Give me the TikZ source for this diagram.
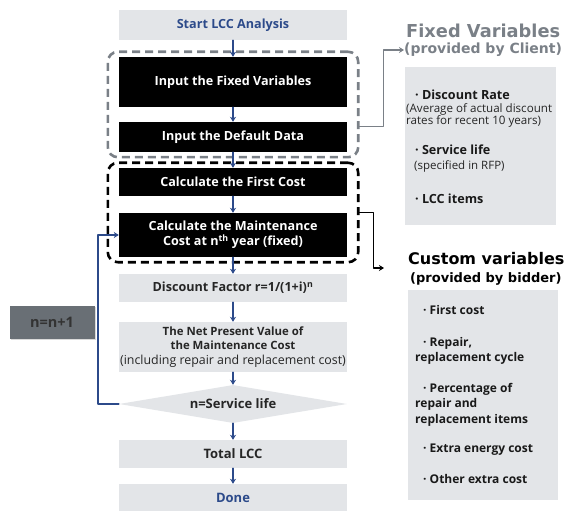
\documentclass[tikz,border=0pt]{standalone}
\usepackage{fontspec}
\setmainfont{Open Sans}
\newfontfamily\headfont{DejaVu Sans}
\usetikzlibrary{shapes.geometric,arrows.meta,fit,shadows}
\definecolor{boxgray}{RGB}{227,229,232}
\definecolor{flowblue}{RGB}{44,74,138}
\definecolor{linegray}{RGB}{122,128,135}
\definecolor{stepgray}{RGB}{105,111,117}
\begin{document}
\begin{tikzpicture}[x=1pt,y=-1pt,>={Stealth[length=5pt,width=6pt]}, font=\bfseries\fontsize{12.6}{15}\selectfont, line join=round, line cap=round,
	darkbox/.style={fill=black,text=white,minimum width=228pt,align=center,inner sep=0pt},
	lightbox/.style={fill=boxgray,text=black!85,minimum width=228pt,align=center,inner sep=0pt},
	flow/.style={->,draw=flowblue,line width=1.3pt},
	group/.style={draw,rounded corners=10pt,line width=2.6pt,dash pattern=on 8pt off 5pt,line cap=butt,inner xsep=11pt,inner ysep=5pt},
	item/.style={anchor=west,inner sep=0pt,text=black!90},
	note/.style={anchor=west,inner sep=0pt,font=\mdseries\fontsize{11.6}{13}\selectfont,text=black!85}]
	\useasboundingbox (0,0) rectangle (566,511);
	% main flow
	\node[lightbox,minimum height=30pt,text=flowblue] (start) at (233,25) {Start LCC Analysis};
	\node[darkbox,minimum height=50pt] (fixed) at (233,82) {Input the Fixed Variables};
	\node[darkbox,minimum height=30pt] (default) at (233,137) {Input the Default Data};
	\node[darkbox,minimum height=28pt] (first) at (233,182) {Calculate the First Cost};
	\node[darkbox,minimum height=44pt] (maint) at (233,235) {Calculate the Maintenance\\Cost at n\textsuperscript{th} year (fixed)};
	\node[lightbox,minimum height=28pt] (disc) at (233,288) {Discount Factor r=1/(1+i)\textsuperscript{n}};
	\node[lightbox,minimum height=50pt,font=\bfseries\fontsize{11.4}{14.5}\selectfont] (npv) at (233,347) {The Net Present Value of\\the Maintenance Cost\\{\mdseries\fontsize{12.4}{14.5}\selectfont (including repair and replacement cost)}};
	\node[diamond,aspect=6,fill=boxgray,text=black!85,minimum width=228pt,minimum height=38pt,inner sep=0pt,font=\bfseries\fontsize{13}{15}\selectfont] (check) at (233,404) {n=Service life};
	\node[lightbox,minimum height=28pt,font=\bfseries\fontsize{13}{15}\selectfont] (total) at (233,454) {Total LCC};
	\node[lightbox,minimum height=28pt,text=flowblue,font=\bfseries\fontsize{13}{15}\selectfont] (done) at (233,498) {Done};
	\node[fill=stepgray,text=black!80,minimum width=85pt,minimum height=33pt,font=\bfseries\fontsize{14.5}{16}\selectfont,drop shadow={opacity=0.3,shadow xshift=1pt,shadow yshift=-1pt}] (incr) at (52,322) {n=n+1};
	% grouped steps
	\node[group,draw=linegray,fit=(fixed)(default)] (inputs) {};
	\node[group,draw=black,fit=(first)(maint)] (costs) {};
	\foreach \a/\b in {start/fixed,fixed/default,default/first,first/maint,maint/disc,disc/npv,npv/check,check/total,total/done}
		\draw[flow] (\a) -- (\b);
	\draw[flow,line width=1.6pt] (check.west) -- ++(-21,0) |- (maint.west);
	% fixed variables
	\node[anchor=west,inner sep=0pt,text=linegray,font=\headfont\bfseries\fontsize{17.8}{20}\selectfont] (fixedhead) at (406,31) {Fixed Variables};
	\node[anchor=west,inner sep=0pt,text=linegray,font=\headfont\bfseries\fontsize{14}{16}\selectfont] (fixedsub) at (404,50) {(provided by Client)};
	\node[fill=boxgray,minimum width=151pt,minimum height=158pt,inner sep=0pt] (fixedlist) at (480.5,146) {};
	\node[item] (fx1) at (415,95) {· Discount Rate};
	\node[note] (fx2) at (406,109) {(Average of actual discount};
	\node[note] (fx3) at (406,121) {rates for recent 10 years)};
	\node[item] (fx4) at (415,150) {· Service life};
	\node[note,font=\mdseries\fontsize{11.5}{13}\selectfont] (fx5) at (414,166) {(specified in RFP)};
	\node[item] (fx6) at (415,199) {· LCC items};
	\draw[->,draw=linegray,line width=1.2pt] ([yshift=-22pt]inputs.east) -- ++(24,0) |- (fixedsub.west);
	% custom variables
	\node[anchor=west,inner sep=0pt,font=\headfont\bfseries\fontsize{16}{18}\selectfont] (customhead) at (408,259) {Custom variables};
	\node[anchor=west,inner sep=0pt,font=\headfont\bfseries\fontsize{13}{15}\selectfont] (customsub) at (410,279) {(provided by bidder)};
	\node[fill=boxgray,minimum width=150pt,minimum height=210pt,inner sep=0pt] (customlist) at (483,395) {};
	\begin{scope}[font=\bfseries\fontsize{12}{14}\selectfont]
		\node[item] (cv1) at (423,310) {· First cost};
		\node[item] (cv2) at (423,343) {· Repair,};
		\node[item] (cv3) at (415,358) {replacement cycle};
		\node[item] (cv4) at (423,389) {· Percentage of};
		\node[item] (cv5) at (415,404) {repair and};
		\node[item] (cv6) at (415,420) {replacement items};
		\node[item] (cv7) at (423,450) {· Extra energy cost};
		\node[item] (cv8) at (423,479) {· Other extra cost};
	\end{scope}
	\coordinate (customin) at (384,268);
	\draw[->,line width=1.4pt] (costs.east) -- ++(14,0) |- (customin);
\end{tikzpicture}
\end{document}
